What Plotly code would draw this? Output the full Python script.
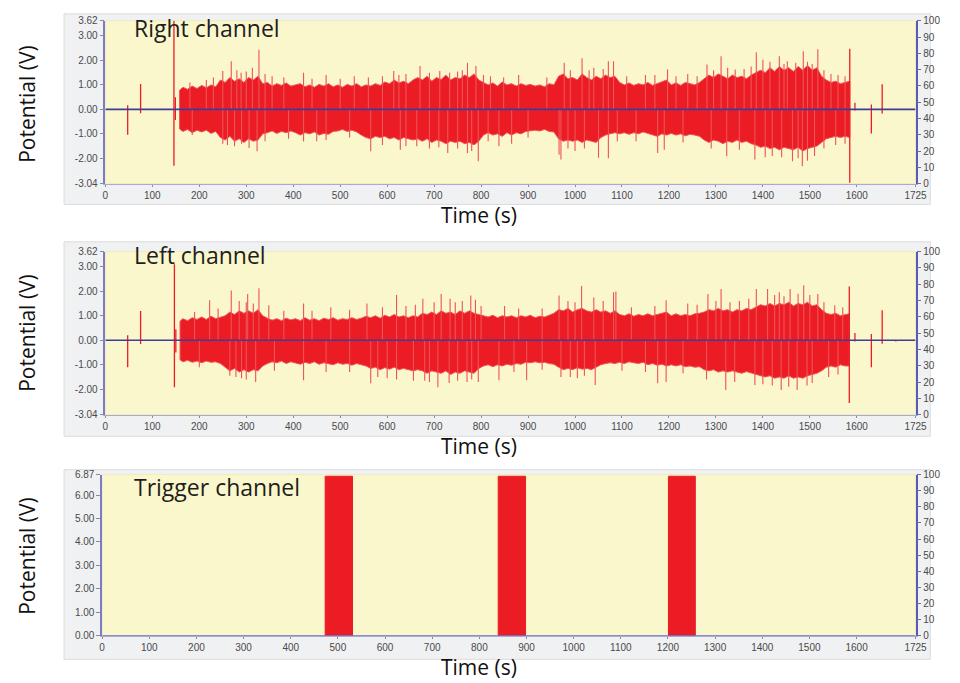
import plotly.graph_objects as go

T_MAX = 1725

# ---------------- Right channel (V) ----------------
# envelope of the dense burst: upper and lower edges at each sampled time
right_t = [158, 165, 175, 185, 195, 205, 215, 225, 235,
           245, 255, 265, 275, 285, 295, 305, 315, 325, 335,
           345, 355, 365, 375, 385, 395, 405,
           415, 425, 435, 445, 455, 465, 475, 485,
           495, 505, 515, 525, 535, 545, 555, 565, 575, 585,
           595, 605, 615, 625, 635, 645, 655,
           665, 675, 685, 695, 705, 715, 725, 735, 745, 755,
           765, 775, 785, 795,
           805, 815, 825, 835, 845, 855, 865, 875, 885, 895, 905, 915,
           925, 935, 945, 955,
           965, 975, 985,
           995, 1005, 1015, 1025, 1035, 1045, 1055, 1065, 1075, 1085,
           1095, 1105, 1115, 1125, 1135, 1145, 1155, 1165, 1175, 1185, 1195, 1205, 1215, 1225, 1235, 1245, 1255, 1265,
           1275, 1285, 1295, 1305, 1315, 1325, 1335, 1345, 1355, 1365, 1375,
           1385, 1395, 1405, 1415, 1425, 1435, 1445, 1455, 1465, 1475, 1485, 1495, 1505, 1515,
           1525, 1535, 1545, 1555, 1565, 1575, 1585]
right_up = [0.78, 0.9, 0.82, 0.95, 0.85, 0.98, 0.88, 1.0, 0.92,
            1.2, 1.1, 1.3, 1.15, 1.25, 1.1, 1.3, 1.2, 1.35, 1.05,
            1.1, 0.95, 1.05, 0.98, 1.08, 0.95, 1.0,
            1.05, 0.92, 1.0, 0.9, 1.02, 0.95, 1.05, 0.92,
            1.0, 0.9, 1.02, 0.95, 1.05, 0.92, 1.0, 0.95, 1.05, 0.98,
            1.12, 1.05, 1.2, 1.08, 1.15, 1.05, 1.2,
            1.3, 1.2, 1.35, 1.15, 1.3, 1.22, 1.4, 1.2, 1.3, 1.25,
            1.4, 1.3, 1.45, 1.2,
            1.1, 1.0, 1.08, 0.95, 1.12, 1.0, 1.05, 0.95, 1.05, 0.98, 1.02, 0.95,
            1.0, 0.92, 1.05, 1.0,
            1.35, 1.45, 1.25,
            1.3, 1.2, 1.45, 1.3, 1.2, 1.35, 1.25, 1.4, 1.3, 1.35,
            1.1, 1.0, 1.08, 0.98, 1.05, 1.0, 1.1, 0.98, 1.05, 1.1, 1.2, 1.0, 1.08, 0.98, 1.1, 1.05, 1.0, 1.1,
            1.25, 1.4, 1.3, 1.45, 1.35, 1.25, 1.4, 1.3, 1.35, 1.25, 1.4,
            1.5, 1.6, 1.5, 1.7, 1.55, 1.75, 1.6, 1.7, 1.55, 1.75, 1.6, 1.8, 1.6, 1.7,
            1.35, 1.2, 1.1, 1.15, 1.05, 1.1, 1.15]
right_lo = [-0.8, -0.9, -0.82, -0.95, -0.85, -0.92, -0.85, -0.98, -0.9,
            -1.15, -1.25, -1.1, -1.3, -1.2, -1.35, -1.2, -1.3, -1.25, -1.0,
            -0.95, -0.88, -0.98, -0.9, -0.95, -0.88, -0.95,
            -1.05, -0.95, -1.0, -0.92, -1.05, -0.98, -1.02, -0.9,
            -0.88, -0.82, -0.9, -0.85, -0.92, -1.05, -1.15, -1.2, -1.1, -1.15,
            -1.1, -1.2, -1.15, -1.25, -1.15, -1.2, -1.25,
            -1.2, -1.3, -1.2, -1.35, -1.25, -1.3, -1.4, -1.3, -1.35, -1.3,
            -1.4, -1.35, -1.45, -1.3,
            -1.05, -0.95, -1.05, -1.0, -1.1, -0.95, -1.05, -0.95, -1.0, -0.9, -0.88, -0.85,
            -0.88, -0.82, -0.9, -0.92,
            -1.2, -1.3, -1.25,
            -1.3, -1.25, -1.35, -1.25, -1.3, -1.35, -1.15, -1.05, -1.0, -0.95,
            -1.0, -0.95, -1.02, -0.95, -1.0, -0.92, -1.0, -1.05, -1.1, -1.0, -1.05, -0.98, -1.05, -1.0, -1.08, -1.02, -1.05, -1.1,
            -1.25, -1.35, -1.25, -1.3, -1.4, -1.3, -1.35, -1.25, -1.35, -1.3, -1.4,
            -1.45, -1.55, -1.5, -1.6, -1.55, -1.65, -1.55, -1.6, -1.65, -1.55, -1.7, -1.6, -1.55, -1.5,
            -1.35, -1.2, -1.15, -1.1, -1.15, -1.1, -1.15]
# individual peaks rising above / dropping below the envelope
right_pk_up_t = [180, 215, 230, 250, 268, 280, 289, 300, 313, 327, 340, 355, 380, 422, 440, 470, 500,
                 530, 560, 590, 614, 625, 640, 670, 690, 712, 733, 750, 760, 771, 789, 805, 820, 848,
                 880, 940, 977, 990, 1015, 1030, 1040, 1060, 1071, 1082, 1110, 1150, 1170, 1197, 1215,
                 1240, 1260, 1281, 1295, 1311, 1325, 1341, 1360, 1375, 1386, 1400, 1415, 1435, 1445,
                 1452, 1470, 1486, 1495, 1505, 1517, 1530, 1545, 1560, 1575]
right_pk_up_v = [1.1, 1.2, 1.3, 1.57, 1.97, 1.6, 1.5, 1.55, 1.7, 2.44, 1.45, 1.35, 1.3, 1.5, 1.25, 1.4,
                 1.25, 1.35, 1.3, 1.35, 1.57, 1.4, 1.45, 1.77, 1.5, 1.57, 1.5, 1.55, 1.6, 1.9, 1.77,
                 1.4, 1.35, 1.3, 1.4, 1.3, 1.9, 1.6, 2.09, 1.6, 1.7, 1.65, 1.97, 1.97, 1.35, 1.4, 1.4,
                 1.63, 1.35, 1.45, 1.35, 1.83, 1.6, 2.17, 1.7, 1.63, 1.65, 1.75, 2.33, 2.03, 1.95,
                 2.17, 1.85, 1.97, 1.9, 2.37, 1.95, 1.85, 2.46, 1.6, 1.45, 1.4, 1.35]
right_pk_dn_t = [185, 250, 260, 275, 290, 306, 323, 340, 390, 422, 450, 470, 520, 565, 590, 628, 640,
                 663, 690, 710, 729, 750, 771, 780, 794, 815, 838, 865, 900, 966, 970, 985, 1000, 1020,
                 1050, 1071, 1090, 1130, 1176, 1190, 1230, 1290, 1323, 1350, 1383, 1405, 1420, 1440,
                 1463, 1475, 1484, 1495, 1510, 1530, 1555, 1575]
right_pk_dn_v = [-1.05, -1.4, -1.45, -1.51, -1.4, -1.58, -1.71, -1.3, -1.2, -1.31, -1.3, -1.25, -1.15,
                 -1.71, -1.45, -1.65, -1.5, -1.51, -1.6, -1.55, -1.78, -1.6, -1.78, -1.7, -2.12, -1.3,
                 -1.51, -1.4, -1.15, -1.85, -2.05, -1.6, -1.7, -1.6, -1.98, -2.0, -1.3, -1.3, -1.78,
                 -1.65, -1.35, -1.6, -1.91, -1.65, -2.05, -1.95, -1.9, -1.95, -2.12, -2.0, -2.32,
                 -2.1, -1.9, -1.6, -1.45, -1.4]
# isolated transients outside the burst
right_tr_t = [47.5, 75, 146, 149, 1585, 1596, 1631, 1654]
right_tr_hi = [0.17, 1.04, 3.62, 0.5, 2.48, 0.27, 0.2, 1.03]
right_tr_lo = [-1.04, -0.16, -2.3, -0.43, -3.0, -0.05, -0.98, -0.17]

# ---------------- Left channel (V) ----------------
left_t = [159, 165, 175, 185, 195, 205, 215, 225, 235, 245,
          255, 265, 275, 285, 295, 305, 315, 325, 335,
          345, 355, 365, 375, 385, 395, 405, 415, 425, 435, 445, 455, 465, 475, 485, 495, 505, 515, 525, 535, 545,
          555, 565, 575, 585, 595, 605, 615, 625, 635, 645, 655, 665,
          675, 685, 695, 705, 715, 725, 735, 745, 755, 765, 775, 785, 795,
          805, 815, 825, 835, 845, 855, 865, 875, 885, 895, 905, 915, 925, 935, 945, 955,
          965, 975, 985, 995, 1005, 1015, 1025, 1035, 1045, 1055, 1065, 1075, 1085,
          1095, 1105, 1115, 1125, 1135, 1145, 1155, 1165, 1175, 1185, 1195, 1205, 1215, 1225, 1235, 1245, 1255, 1265,
          1275, 1285, 1295, 1305, 1315, 1325, 1335, 1345, 1355, 1365, 1375,
          1385, 1395, 1405, 1415, 1425, 1435, 1445, 1455, 1465, 1475, 1485, 1495, 1505, 1515,
          1525, 1535, 1545, 1555, 1565, 1575, 1584]
left_up = [0.78, 0.88, 0.8, 0.92, 0.85, 0.95, 0.85, 0.98, 0.88, 0.95,
           1.0, 1.15, 1.05, 1.2, 1.1, 1.2, 1.1, 1.25, 1.0,
           0.9, 0.82, 0.88, 0.8, 0.9, 0.83, 0.88, 0.8, 0.92, 0.82, 0.88, 0.8, 0.9, 0.85, 0.92, 0.82, 0.88, 0.85, 0.92, 0.85, 0.9,
           0.98, 0.92, 1.0, 0.9, 1.02, 0.95, 1.05, 0.95, 1.0, 0.92, 1.0, 0.95,
           1.1, 1.05, 1.15, 1.05, 1.2, 1.1, 1.15, 1.05, 1.2, 1.1, 1.2, 1.1, 1.05,
           1.0, 0.95, 1.02, 0.92, 1.0, 0.95, 1.0, 0.92, 1.0, 0.95, 1.02, 0.92, 0.98, 0.95, 1.02, 1.1,
           1.25, 1.2, 1.3, 1.15, 1.25, 1.3, 1.2, 1.15, 1.25, 1.15, 1.2, 1.1, 1.2,
           1.05, 1.0, 1.08, 0.98, 1.05, 1.0, 1.08, 1.0, 1.05, 1.1, 1.15, 1.0, 1.08, 1.0, 1.05, 1.0, 1.08, 1.1,
           1.15, 1.25, 1.2, 1.3, 1.2, 1.25, 1.15, 1.25, 1.2, 1.3, 1.25,
           1.35, 1.45, 1.4, 1.5, 1.4, 1.5, 1.45, 1.55, 1.4, 1.5, 1.45, 1.55, 1.4, 1.45,
           1.25, 1.1, 1.05, 1.1, 1.0, 1.05, 1.08]
left_lo = [-0.8, -0.88, -0.82, -0.9, -0.85, -0.92, -0.85, -0.9, -0.88, -0.95,
           -1.1, -1.25, -1.15, -1.3, -1.2, -1.3, -1.2, -1.25, -1.05,
           -0.95, -0.88, -0.92, -0.85, -0.95, -0.88, -0.92, -0.98, -0.9, -0.95, -0.88, -0.98, -0.92, -0.95, -1.0, -0.92, -0.98, -0.95, -1.02, -0.95, -1.0,
           -1.05, -1.15, -1.1, -1.2, -1.12, -1.18, -1.1, -1.2, -1.15, -1.2, -1.25, -1.2,
           -1.25, -1.35, -1.25, -1.3, -1.35, -1.25, -1.4, -1.3, -1.35, -1.25, -1.3, -1.35, -1.15,
           -1.05, -1.0, -1.08, -1.0, -1.05, -0.98, -1.02, -0.95, -0.98, -0.9, -0.92, -0.88, -0.92, -0.9, -0.95, -0.98,
           -1.1, -1.2, -1.15, -1.2, -1.12, -1.18, -1.15, -1.2, -1.1, -1.0, -0.95, -0.92, -0.95,
           -0.9, -0.95, -0.88, -0.92, -0.95, -0.9, -1.0, -0.95, -1.02, -0.98, -1.05, -1.0, -1.05, -1.0, -1.08, -1.05, -1.1, -1.08,
           -1.2, -1.25, -1.2, -1.3, -1.25, -1.3, -1.25, -1.3, -1.35, -1.28, -1.35,
           -1.4, -1.45, -1.5, -1.45, -1.55, -1.5, -1.55, -1.45, -1.55, -1.5, -1.55, -1.45, -1.4, -1.35,
           -1.25, -1.1, -1.05, -1.1, -1.0, -1.05, -1.05]
left_pk_up_t = [190, 222, 240, 268, 285, 300, 303, 315, 327, 348, 380, 422, 440, 480, 520, 557, 590,
                620, 640, 660, 676, 700, 715, 734, 745, 760, 778, 788, 800, 850, 880, 930, 966, 985,
                1000, 1014, 1040, 1060, 1082, 1087, 1120, 1170, 1194, 1240, 1260, 1283, 1300, 1311,
                1330, 1350, 1370, 1386, 1410, 1425, 1435, 1445, 1458, 1475, 1487, 1500, 1517, 1530,
                1553, 1570]
left_pk_up_v = [1.15, 1.63, 1.3, 2.03, 1.6, 1.55, 1.89, 1.5, 2.12, 1.43, 1.2, 1.5, 1.2, 1.35, 1.25,
                1.5, 1.35, 1.85, 1.4, 1.45, 1.69, 1.55, 1.89, 1.69, 1.55, 1.6, 1.83, 1.65, 1.4, 1.4,
                1.3, 1.3, 1.83, 1.6, 1.55, 2.22, 1.75, 1.6, 1.96, 1.99, 1.35, 1.4, 1.63, 1.5, 1.45,
                1.89, 1.6, 2.09, 1.55, 1.6, 1.7, 2.09, 2.09, 1.85, 1.96, 1.8, 2.09, 1.9, 2.25, 1.85,
                1.89, 1.55, 1.43, 1.35]
left_pk_dn_t = [200, 265, 278, 290, 300, 320, 360, 422, 470, 520, 565, 580, 600, 620, 656, 680, 690,
                708, 732, 750, 770, 780, 794, 838, 870, 897, 930, 970, 990, 1005, 1020, 1043, 1100,
                1150, 1176, 1194, 1230, 1280, 1321, 1340, 1383, 1400, 1420, 1439, 1455, 1473, 1494,
                1505, 1540, 1560]
left_pk_dn_v = [-1.1, -1.45, -1.5, -1.55, -1.6, -1.7, -1.25, -1.63, -1.3, -1.3, -1.76, -1.5, -1.55,
                -1.6, -1.65, -1.65, -1.7, -1.92, -1.75, -1.65, -1.7, -1.6, -1.7, -1.63, -1.3, -1.63,
                -1.2, -1.5, -1.5, -1.55, -1.45, -1.83, -1.25, -1.3, -1.76, -1.7, -1.35, -1.6, -2.03,
                -1.7, -1.83, -1.8, -1.85, -2.03, -1.9, -2.03, -1.85, -1.75, -1.5, -1.4]
left_tr_t = [47.5, 75, 147, 150, 1584, 1596, 1631, 1654, 1683]
left_tr_hi = [0.2, 1.19, 3.1, 0.45, 2.2, 0.3, 0.26, 1.23, 0.0]
left_tr_lo = [-1.1, -0.15, -1.92, -0.5, -2.56, -0.05, -1.1, -0.14, -0.05]

# ---------------- Trigger channel (V) ----------------
trig_start = [473, 840, 1201]
trig_end = [531, 898, 1258]
trig_level = [6.8, 6.8, 6.8]

# axis tick definitions
x_ticks = list(range(0, 1700, 100)) + [1725]
audio_ticks = [-3.04, -2.0, -1.0, 0.0, 1.0, 2.0, 3.0, 3.62]
trig_ticks = [0.0, 1.0, 2.0, 3.0, 4.0, 5.0, 6.0, 6.87]
pct_ticks = list(range(0, 101, 10))

RED = "#ec1c24"
RED_LIGHT = "#ef5257"
BASE = "#3d3c9a"
W, H = 960, 683


def band(t, up, lo):
    return list(t) + list(t)[::-1] + [t[0]], list(up) + list(lo)[::-1] + [up[0]]


def sticks(t, hi, lo):
    xs, ys = [], []
    for a, b, c in zip(t, hi, lo):
        xs += [a, a, None]
        ys += [c, b, None]
    return xs, ys


fig = go.Figure()


def add_audio(t, up, lo, put, puv, pdt, pdv, tt, th, tl, xa, ya):
    bx, by = band(t, up, lo)
    fig.add_trace(go.Scatter(x=bx, y=by, mode="lines", fill="toself", fillcolor=RED,
                             line=dict(color=RED_LIGHT, width=1), xaxis=xa, yaxis=ya,
                             hoverinfo="skip"))
    sx, sy = sticks(put, puv, [0] * len(put))
    fig.add_trace(go.Scatter(x=sx, y=sy, mode="lines", line=dict(color=RED_LIGHT, width=1.1),
                             xaxis=xa, yaxis=ya, hoverinfo="skip"))
    sx, sy = sticks(pdt, [0] * len(pdt), pdv)
    fig.add_trace(go.Scatter(x=sx, y=sy, mode="lines", line=dict(color=RED_LIGHT, width=1.1),
                             xaxis=xa, yaxis=ya, hoverinfo="skip"))
    sx, sy = sticks(tt, th, tl)
    fig.add_trace(go.Scatter(x=sx, y=sy, mode="lines", line=dict(color=RED, width=1.3),
                             xaxis=xa, yaxis=ya, hoverinfo="skip"))
    fig.add_trace(go.Scatter(x=[0, T_MAX], y=[0, 0], mode="lines", line=dict(color=BASE, width=1.6),
                             xaxis=xa, yaxis=ya, hoverinfo="skip"))


add_audio(right_t, right_up, right_lo, right_pk_up_t, right_pk_up_v,
          right_pk_dn_t, right_pk_dn_v, right_tr_t, right_tr_hi, right_tr_lo, "x", "y")
add_audio(left_t, left_up, left_lo, left_pk_up_t, left_pk_up_v,
          left_pk_dn_t, left_pk_dn_v, left_tr_t, left_tr_hi, left_tr_lo, "x2", "y3")

for s, e, lv in zip(trig_start, trig_end, trig_level):
    fig.add_trace(go.Scatter(x=[s, s, e, e, s], y=[0, lv, lv, 0, 0], mode="lines", fill="toself",
                             fillcolor=RED, line=dict(color=RED, width=1), xaxis="x3", yaxis="y5",
                             hoverinfo="skip"))
fig.add_trace(go.Scatter(x=[0, T_MAX], y=[0, 0], mode="lines", line=dict(color="#6e6ec4", width=1.6),
                         xaxis="x3", yaxis="y5", hoverinfo="skip"))

# invisible carriers so the right-hand percentage axes are drawn
for xa, ya in (("x", "y2"), ("x2", "y4"), ("x3", "y6")):
    fig.add_trace(go.Scatter(x=[None], y=[None], xaxis=xa, yaxis=ya, showlegend=False))


def px_x(p):
    return p / W


def px_y(p):
    return 1 - p / H


tick_font = dict(family="Liberation Sans, Arial", size=10, color="#4a4a4a")


def xaxis_def(left_px, anchor):
    return dict(domain=[px_x(left_px), px_x(927)], range=[0, T_MAX], anchor=anchor,
                tickvals=x_ticks, ticktext=[str(v) for v in x_ticks], ticks="outside",
                ticklen=2, tickcolor="#8a8a9a", showgrid=False, zeroline=False,
                showline=True, linecolor="#a9a9d6", linewidth=1.2, tickfont=tick_font)


def yleft_def(top_px, bot_px, rng, tv, anchor):
    return dict(domain=[px_y(bot_px), px_y(top_px)], range=rng, anchor=anchor,
                tickvals=tv, ticktext=[f"{v:.2f}" for v in tv], ticks="outside", ticklen=4,
                tickcolor="#8a8a9a", showgrid=False, zeroline=False, showline=True,
                linecolor="#7b7bc6", linewidth=1.5, tickfont=tick_font)


def yright_def(over, anchor):
    return dict(overlaying=over, anchor=anchor, side="right", range=[0, 100], tickvals=pct_ticks,
                ticks="outside", ticklen=4, tickcolor="#6a6ab8", showgrid=False, zeroline=False,
                showline=True, linecolor="#5a5ab4", linewidth=1.5, tickfont=tick_font)


panels = [(15, 181, 104), (250, 416, 104), (477, 641, 100.7)]
frames = [(8, 202), (240, 438), (472, 665)]

shapes = []
for top, bot in frames:
    shapes.append(dict(type="rect", xref="paper", yref="paper", x0=px_x(62), x1=px_x(942),
                       y0=px_y(bot), y1=px_y(top), fillcolor="#f0f1f3",
                       line=dict(color="#dcdcdc", width=1), layer="below"))
for xa, ya in (("x", "y"), ("x2", "y3"), ("x3", "y5")):
    shapes.append(dict(type="rect", xref=f"{xa} domain", yref=f"{ya} domain", x0=0, x1=1,
                       y0=0, y1=1, fillcolor="#fbf7cc", line=dict(color="#efeac0", width=1),
                       layer="below"))

annotations = []
titles = [("Right channel", 22), ("Left channel", 253), ("Trigger channel", 490)]
for txt, yy in titles:
    annotations.append(dict(text=txt, xref="paper", yref="paper", x=px_x(131), y=px_y(yy),
                            xanchor="left", yanchor="middle", showarrow=False,
                            font=dict(family="Open Sans", size=23, color="#1e1e1e")))
for yy in (213, 448, 673):
    annotations.append(dict(text="Time (s)", xref="paper", yref="paper", x=px_x(484), y=px_y(yy),
                            xanchor="center", yanchor="middle", showarrow=False,
                            font=dict(family="Open Sans", size=21, color="#111111")))
for yy in (100, 333, 560):
    annotations.append(dict(text="Potential (V)", xref="paper", yref="paper", x=px_x(25),
                            y=px_y(yy), xanchor="center", yanchor="middle", textangle=-90,
                            showarrow=False,
                            font=dict(family="Open Sans", size=21, color="#111111")))

fig.update_layout(
    width=W, height=H, margin=dict(l=0, r=0, t=0, b=0),
    paper_bgcolor="white", plot_bgcolor="#fbf7cc", showlegend=False,
    xaxis=xaxis_def(panels[0][2], "y"),
    yaxis=yleft_def(panels[0][0], panels[0][1], [-3.04, 3.62], audio_ticks, "x"),
    yaxis2=yright_def("y", "x"),
    xaxis2=xaxis_def(panels[1][2], "y3"),
    yaxis3=yleft_def(panels[1][0], panels[1][1], [-3.04, 3.62], audio_ticks, "x2"),
    yaxis4=yright_def("y3", "x2"),
    xaxis3=xaxis_def(panels[2][2], "y5"),
    yaxis5=yleft_def(panels[2][0], panels[2][1], [0, 6.87], trig_ticks, "x3"),
    yaxis6=yright_def("y5", "x3"),
    shapes=shapes, annotations=annotations,
)

fig.write_html("out.html")
